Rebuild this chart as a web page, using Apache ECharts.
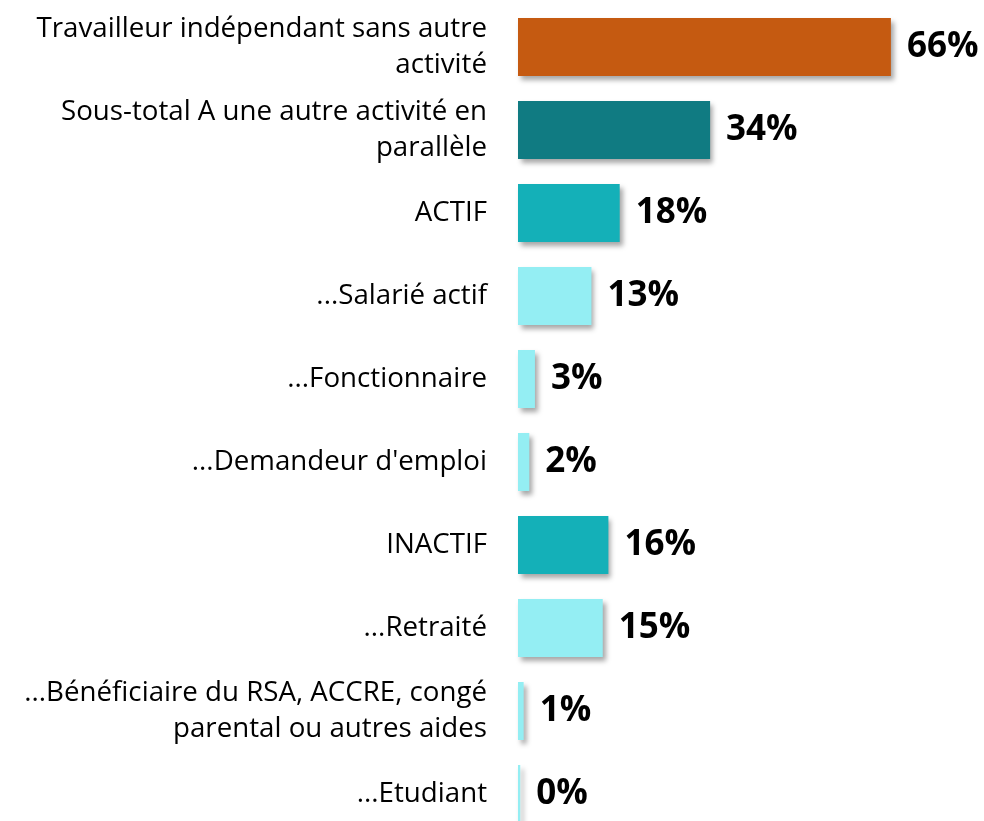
<!DOCTYPE html>
<html>
<head>
<meta charset="utf-8">
<script src="https://cdn.jsdelivr.net/npm/echarts@6/dist/echarts.min.js"></script>
<style>
    html, body { margin: 0; padding: 0; background: #fff; overflow: hidden; }
    #main { width: 984px; height: 850px; }
</style>
</head>
<body>
<div id="main"></div>
<script type="text/javascript">
    var categories = [
        'Travailleur indépendant sans autre\nactivité',
        'Sous-total A une autre activité en\nparallèle',
        'ACTIF',
        '...Salarié actif',
        '...Fonctionnaire',
        "...Demandeur d'emploi",
        'INACTIF',
        '...Retraité',
        '...Bénéficiaire du RSA, ACCRE, congé\nparental ou autres aides',
        '...Etudiant'
    ];
    var values = [66, 34, 18, 13, 3, 2, 16, 15, 1, 0.4];
    var labels = ['66%', '34%', '18%', '13%', '3%', '2%', '16%', '15%', '1%', '0%'];

    // one colour per bar
    var colors = ['#C55A11', '#107B82', '#14B0B8', '#94EEF3', '#94EEF3',
                  '#94EEF3', '#14B0B8', '#94EEF3', '#94EEF3', '#94EEF3'];

    var seriesData = values.map(function (v, i) {
        return {
            value: v,
            itemStyle: { color: colors[i] },
            label: { formatter: labels[i] }
        };
    });

    var chart = echarts.init(document.getElementById('main'));
    chart.setOption({
        animation: false,
        grid: { left: 518, top: 5.5, width: 452, height: 830 },
        xAxis: {
            type: 'value',
            min: 0,
            max: 80,
            show: false
        },
        yAxis: {
            type: 'category',
            inverse: true,
            data: categories,
            axisLine: { show: false },
            axisTick: { show: false },
            splitLine: { show: false },
            axisLabel: {
                margin: 31,
                color: '#000',
                fontFamily: 'Open Sans',
                fontSize: 27.7,
                lineHeight: 36,
                align: 'right'
            }
        },
        series: [{
            type: 'bar',
            data: seriesData,
            barWidth: 58,
            itemStyle: {
                shadowColor: 'rgba(0,0,0,0.35)',
                shadowBlur: 5,
                shadowOffsetX: 3,
                shadowOffsetY: 4
            },
            label: {
                show: true,
                position: 'right',
                distance: 16,
                color: '#000',
                fontFamily: 'Open Sans',
                fontWeight: 'bold',
                fontSize: 35
            }
        }]
    });
</script>
</body>
</html>
